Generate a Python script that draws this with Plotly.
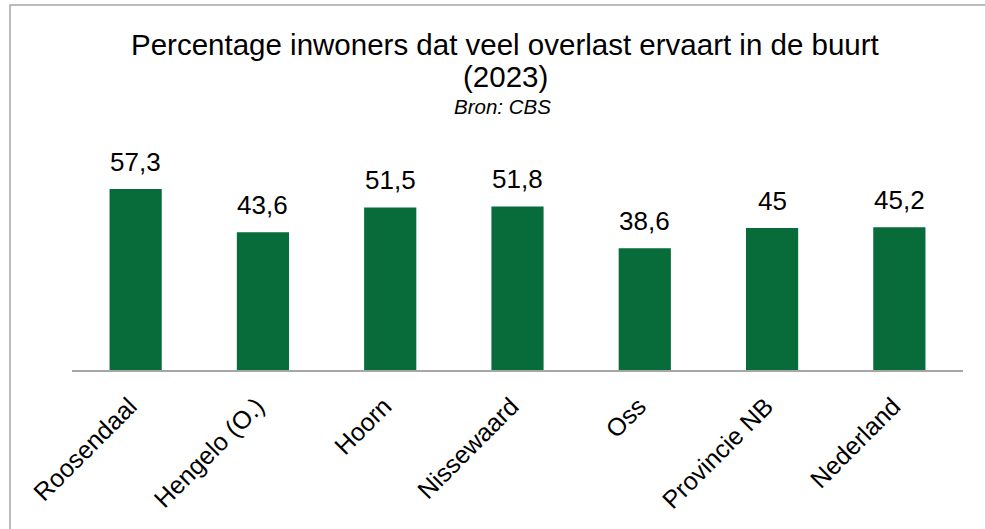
import plotly.graph_objects as go

GEBIEDEN = ['Roosendaal', 'Hengelo (O.)', 'Hoorn', 'Nissewaard', 'Oss', 'Provincie NB', 'Nederland']
PERCENTAGES = [57.3, 43.6, 51.5, 51.8, 38.6, 45, 45.2]

TITLE_LINES = ['Percentage inwoners dat veel overlast ervaart in de buurt', '(2023)']
SUBTITLE = 'Bron: CBS'

BAR_COLOR = '#076b3a'
FONT = 'Liberation Sans, Arial, sans-serif'

W, H = 985, 529
L, R, T, B = 72, 22, 149, 159
PLOT_H = H - T - B


def py_to_paper(py):
    return (H - B - py) / PLOT_H


def px_to_paper(px):
    return (px - L) / (W - L - R)


fig = go.Figure(
    go.Bar(
        x=GEBIEDEN,
        y=PERCENTAGES,
        marker_color=BAR_COLOR,
        marker_line_width=0,
        width=0.41,
        hoverinfo='x+y',
    )
)

for gebied, pct in zip(GEBIEDEN, PERCENTAGES):
    fig.add_annotation(
        x=gebied, y=pct, text=f'{pct:g}'.replace('.', ','),
        showarrow=False, yanchor='bottom', yshift=10,
        font=dict(size=26, color='#000000', family=FONT),
    )

# title lines + source
for text, py in zip(TITLE_LINES, [45, 76]):
    fig.add_annotation(
        xref='paper', yref='paper', x=px_to_paper(505), y=py_to_paper(py),
        text=text, showarrow=False, xanchor='center', yanchor='middle',
        font=dict(size=29.5, color='#000000', family=FONT),
    )
fig.add_annotation(
    xref='paper', yref='paper', x=px_to_paper(502), y=py_to_paper(106),
    text=f'<i>{SUBTITLE}</i>', showarrow=False, xanchor='center', yanchor='middle',
    font=dict(size=20.5, color='#000000', family=FONT),
)

# chart frame (only top and left edge visible in the reference)
fig.add_shape(
    type='rect', xref='paper', yref='paper',
    x0=px_to_paper(10), x1=px_to_paper(1000), y0=py_to_paper(560), y1=py_to_paper(5),
    line=dict(color='#a6a6a6', width=1.5), fillcolor='rgba(0,0,0,0)', layer='below',
)

fig.update_layout(
    width=W, height=H,
    margin=dict(l=L, r=R, t=T, b=B, autoexpand=False),
    paper_bgcolor='white',
    plot_bgcolor='white',
    showlegend=False,
    font=dict(family=FONT, color='#000000'),
    xaxis=dict(
        showline=True, linecolor='#a6a6a6', linewidth=1.5, automargin=False,
        ticks='', tickangle=-45, tickfont=dict(size=25, color='#000000'),
        ticklabelstandoff=10, ticklabelshift=-6,
        showgrid=False,
    ),
    yaxis=dict(range=[0, 70], visible=False, showgrid=False, automargin=False),
)

fig.write_html(
    'out.html',
    config={'displayModeBar': False},
    post_script=['document.body.style.margin = "0";'],
)
